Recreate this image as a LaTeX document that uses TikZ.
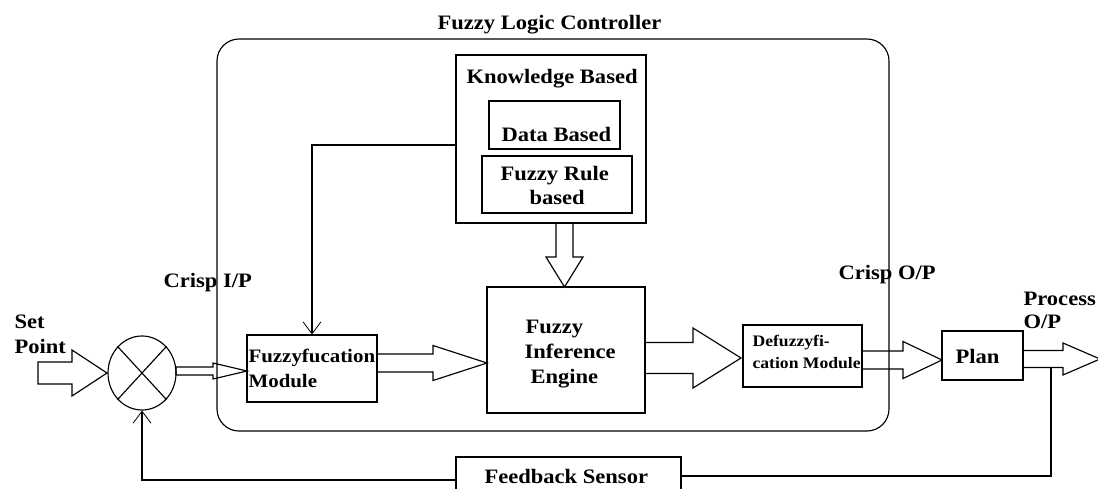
\documentclass[tikz,border=0pt]{standalone}
\usepackage{fontspec}
\setmainfont{Liberation Serif}[FakeStretch=1.1]
\usetikzlibrary{arrows.meta,calc,shapes.geometric}
\newcommand\hollowH[6]{% x0, head base x, tip x, centre y, shaft half, head half
  \draw[hollow] (#1,#4-#5) -- (#2,#4-#5) -- (#2,#4-#6) -- (#3,#4) -- (#2,#4+#6) -- (#2,#4+#5) -- (#1,#4+#5) -- cycle;}
\newcommand\hollowV[6]{% y0, head base y, tip y, centre x, shaft half, head half
  \draw[hollow] (#4-#5,#1) -- (#4-#5,#2) -- (#4-#6,#2) -- (#4,#3) -- (#4+#6,#2) -- (#4+#5,#2) -- (#4+#5,#1) -- cycle;}
\begin{document}
\begin{tikzpicture}[x=1pt,y=-1pt,line width=1.15pt,
  box/.style={draw,inner sep=0pt,minimum width=#1},
  lbl/.style={font=\bfseries\fontsize{20.5}{25}\selectfont,inner sep=0pt,anchor=base west},
  mlbl/.style={font=\bfseries\fontsize{19}{25}\selectfont,inner sep=0pt,anchor=base west},
  slbl/.style={font=\bfseries\fontsize{16}{20}\selectfont,inner sep=0pt,anchor=base west},
  barb/.style={-{Straight Barb[length=12pt,width=18pt,line width=0.8pt]}},
  hollow/.style={draw,line join=miter}]
\useasboundingbox (0,0) rectangle (1098,488);

% outer controller frame
\draw[rounded corners=22pt] (217,39) rectangle (889,431);

% boxes
\node[box=190pt,minimum height=168pt] (kb) at (551,139) {};
\node[box=131pt,minimum height=48pt] (db) at (554.5,125) {};
\node[box=150pt,minimum height=57pt] (fr) at (557,184.5) {};
\node[box=158pt,minimum height=126pt] (fie) at (566,350) {};
\node[box=130pt,minimum height=67pt] (fm) at (312,368.5) {};
\node[box=119pt,minimum height=62pt] (dm) at (802.5,356) {};
\node[box=81pt,minimum height=49pt] (plan) at (982.5,355.5) {};
\node[box=225pt,minimum height=38pt] (fs) at (568.5,476) {};
\node[draw,ellipse,minimum width=68pt,minimum height=74pt,inner sep=0pt] (sum) at (142,373) {};
\draw (sum.north east) -- (sum.south west) (sum.north west) -- (sum.south east);

% texts
\node[lbl] (t1) at (437,29) {Fuzzy Logic Controller};
\node[lbl] (t2) at (466,83) {Knowledge Based};
\node[lbl] (t3) at (501,141) {Data Based};
\node[lbl] (t4) at (500,180) {Fuzzy Rule};
\node[lbl] (t5) at (529,204) {based};
\node[lbl] (t6) at (525,333) {Fuzzy};
\node[lbl] (t7) at (524,358) {Inference};
\node[lbl] (t8) at (530,383) {Engine};
\node[mlbl] (t9) at (248,362) {Fuzzyfucation};
\node[mlbl] (t10) at (248,387) {Module};
\node[slbl] (t11) at (752,346) {Defuzzyfi-};
\node[slbl] (t12) at (752,368) {cation Module};
\node[lbl] (t13) at (955,363) {Plan};
\node[lbl] (t14) at (1023,305) {Process};
\node[lbl] (t15) at (1023,328) {O/P};
\node[lbl] (t16) at (14,328) {Set};
\node[lbl] (t17) at (14,353) {Point};
\node[lbl] (t18) at (163,287) {Crisp I/P};
\node[lbl] (t19) at (838,279) {Crisp O/P};
\node[lbl] (t20) at (484,483) {Feedback Sensor};

% line connectors
\draw[barb] ([yshift=-6pt]kb.west) -| (fm.north);
\coordinate (po) at (1051,367);
\draw (po) |- (fs.east);
\draw[barb] ([yshift=-4pt]fs.west) -| (sum.south);

% hollow block arrows
\hollowH{38}{72}{107}{373}{11}{23}
\hollowH{176}{213}{247}{371}{4}{8}
\hollowH{377}{433}{487}{363}{9}{17.5}
\hollowH{645}{693}{741}{358}{15.5}{30}
\hollowH{862}{903}{942}{360}{9}{18.5}
\hollowH{1023}{1063}{1100}{359}{8.5}{16}
\hollowV{223}{257}{287}{564.5}{8.5}{18.5}
\end{tikzpicture}
\end{document}
